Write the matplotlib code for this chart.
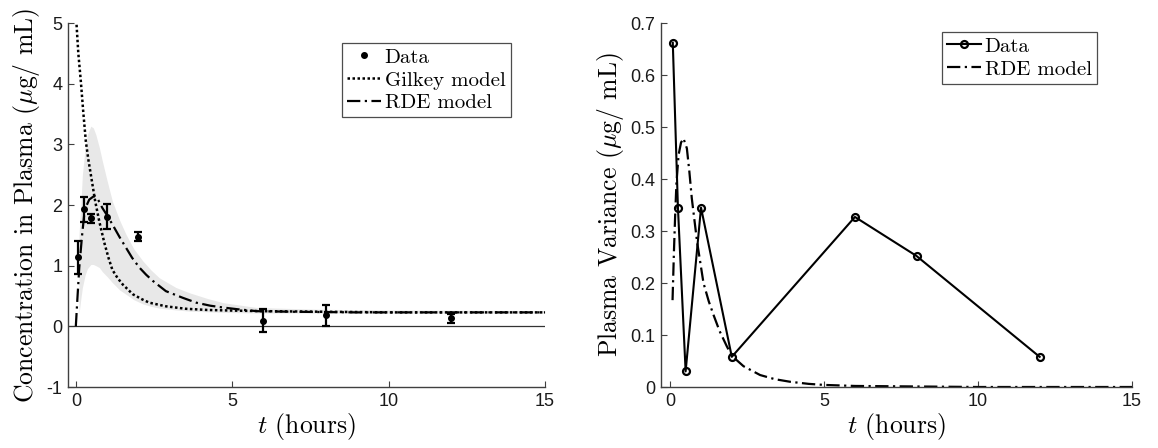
import numpy as np
import matplotlib
matplotlib.use("Agg")
import matplotlib.pyplot as plt
from matplotlib.ticker import FormatStrFormatter

plt.rcParams['mathtext.fontset'] = 'cm'
plt.rcParams['axes.unicode_minus'] = False
plt.rcParams['font.family'] = ['Liberation Sans', 'DejaVu Sans']

# measured concentration (mean and error bar half-widths)
t_data = [0.083, 0.25, 0.5, 1.0, 2.0, 6.0, 8.0, 12.0]
conc = [1.14, 1.93, 1.78, 1.81, 1.48, 0.09, 0.18, 0.13]
conc_err = [0.27, 0.21, 0.07, 0.20, 0.08, 0.19, 0.17, 0.07]

# Gilkey model (dotted)
t_gil = [0.0, 0.02, 0.08, 0.16, 0.24, 0.32, 0.40, 0.48, 0.62, 0.75, 0.91, 1.05,
         1.17, 1.33, 1.5, 1.82, 2.1, 2.35, 2.88, 3.5, 4.2, 5.0, 6.0, 8.0, 10.0, 12.0, 15.0]
y_gil = [5.3, 5.0, 4.5, 4.04, 3.52, 3.05, 2.75, 2.5, 2.06, 1.73, 1.38, 1.12,
         0.93, 0.8, 0.69, 0.53, 0.45, 0.39, 0.33, 0.29, 0.27, 0.26, 0.25, 0.24, 0.23, 0.23, 0.23]

# RDE model (left panel)
t_rde = [0.0, 0.05, 0.11, 0.2, 0.27, 0.35, 0.43, 0.59, 0.7, 0.85, 1.0, 1.17, 1.4,
         1.6, 1.8, 2.03, 2.25, 2.46, 2.88, 3.42, 3.85, 4.3, 4.71, 5.2, 5.79, 7.0, 9.0, 12.0, 15.0]
y_rde = [0.0, 0.45, 0.97, 1.5, 1.85, 2.0, 2.09, 2.15, 2.1, 1.95, 1.83, 1.68, 1.47,
         1.30, 1.13, 0.97, 0.85, 0.75, 0.58, 0.47, 0.39, 0.34, 0.31, 0.28, 0.25, 0.24, 0.23, 0.23, 0.23]

# uncertainty band
t_band = [0.1, 0.16, 0.21, 0.3, 0.37, 0.48, 0.56, 0.64, 0.75, 0.85, 1.0, 1.17, 1.4,
          1.6, 1.85, 2.14, 2.4, 2.67, 3.2, 3.65, 4.2, 4.71, 5.79, 7.9, 10.0, 15.0]
band_hi = [1.5, 2.0, 2.5, 2.95, 3.16, 3.30, 3.27, 3.16, 2.95, 2.72, 2.4, 2.06, 1.75,
           1.52, 1.28, 1.08, 0.93, 0.80, 0.64, 0.55, 0.46, 0.39, 0.31, 0.28, 0.27, 0.26]
band_lo = [0.2, 0.45, 0.64, 0.85, 0.95, 1.02, 1.02, 1.0, 0.97, 0.9, 0.82, 0.72, 0.6,
           0.53, 0.44, 0.37, 0.33, 0.30, 0.27, 0.25, 0.24, 0.23, 0.22, 0.22, 0.22, 0.22]

# plasma variance
var_data = [0.662, 0.345, 0.03, 0.345, 0.058, 0.327, 0.252, 0.058]
t_rdev = [0.075, 0.12, 0.16, 0.2, 0.27, 0.35, 0.43, 0.54, 0.62, 0.70, 0.87, 1.08, 1.25,
          1.41, 1.6, 1.84, 2.0, 2.38, 2.92, 3.4, 3.9, 4.5, 5.0, 6.0, 8.0, 10.0, 15.0]
y_rdev = [0.167, 0.26, 0.33, 0.39, 0.446, 0.47, 0.478, 0.459, 0.415, 0.363, 0.28, 0.20, 0.165,
          0.138, 0.108, 0.078, 0.06, 0.04, 0.023, 0.015, 0.010, 0.006, 0.004, 0.002, 0.001, 0.0, 0.0]

serif = 'cmr10'
axcol = '0.25'

fig = plt.figure(figsize=(11.58, 4.48), dpi=100)
ax1 = fig.add_axes([68/1158, 61/448, 477/1158, 364/448])
ax2 = fig.add_axes([661/1158, 61/448, 471/1158, 364/448])

for ax in (ax1, ax2):
    for s in ('top', 'right'):
        ax.spines[s].set_visible(False)
    for s in ('left', 'bottom'):
        ax.spines[s].set_color(axcol)
        ax.spines[s].set_linewidth(1.0)
    ax.tick_params(direction='in', length=4, width=0.8, color=axcol, labelsize=13,
                   labelcolor='0.1', pad=4)
    ax.set_xticks([0, 5, 10, 15])
    ax.set_xlabel('$t$ (hours)', family=serif, fontsize=18.5, labelpad=1)

# left panel
ax1.fill_between(t_band, band_lo, band_hi, color='#e8e8e8', lw=0)
ax1.axhline(0, color='0.2', lw=0.9)
ax1.plot(t_gil, y_gil, ls=(0, (1, 1)), color='k', lw=1.8, label='Gilkey model')
ax1.plot(t_rde, y_rde, ls=(0, (6, 2, 1, 2)), color='k', lw=1.6, label='RDE model')
ax1.errorbar(t_data, conc, yerr=conc_err, fmt='o', color='k', ms=4, elinewidth=1.6,
             capsize=3, capthick=1.6, label='Data')
ax1.set_xlim(-0.25, 15)
ax1.set_ylim(-1, 5)
ax1.set_yticks(range(-1, 6))
ax1.set_ylabel(r'Concentration in Plasma ($\mu$g/ mL)', family=serif, fontsize=18.5, labelpad=3)

h, l = ax1.get_legend_handles_labels()
h = [h[2][0], h[0], h[1]]
l = ['Data', 'Gilkey model', 'RDE model']
leg1 = ax1.legend(h, l, loc='upper left', bbox_to_anchor=(342/1158, 1 - 43/448),
                  bbox_transform=fig.transFigure, borderaxespad=0, fancybox=False,
                  edgecolor='0.3', framealpha=1, prop={'family': serif, 'size': 15},
                  handlelength=1.6, handletextpad=0.2, borderpad=0.25, labelspacing=0.2)
leg1.get_frame().set_linewidth(0.9)

# right panel
ax2.plot(t_data, var_data, '-o', color='k', lw=1.5, ms=5, mfc='none', mew=1.6, label='Data')
ax2.plot(t_rdev, y_rdev, ls=(0, (6, 2, 1, 2)), color='k', lw=1.6, label='RDE model')
ax2.set_xlim(-0.3, 15)
ax2.set_ylim(0, 0.7)
ax2.set_yticks(np.arange(0, 0.71, 0.1))
ax2.yaxis.set_major_formatter(FormatStrFormatter('%g'))
ax2.set_ylabel(r'Plasma Variance ($\mu$g/ mL)', family=serif, fontsize=18.5, labelpad=3)
leg2 = ax2.legend(loc='upper left', bbox_to_anchor=(942/1158, 1 - 32/448),
                  bbox_transform=fig.transFigure, borderaxespad=0, fancybox=False,
                  edgecolor='0.3', framealpha=1, prop={'family': serif, 'size': 15},
                  handlelength=1.6, handletextpad=0.2, borderpad=0.25, labelspacing=0.2)
leg2.get_frame().set_linewidth(0.9)

fig.savefig('out.png', dpi=100)
